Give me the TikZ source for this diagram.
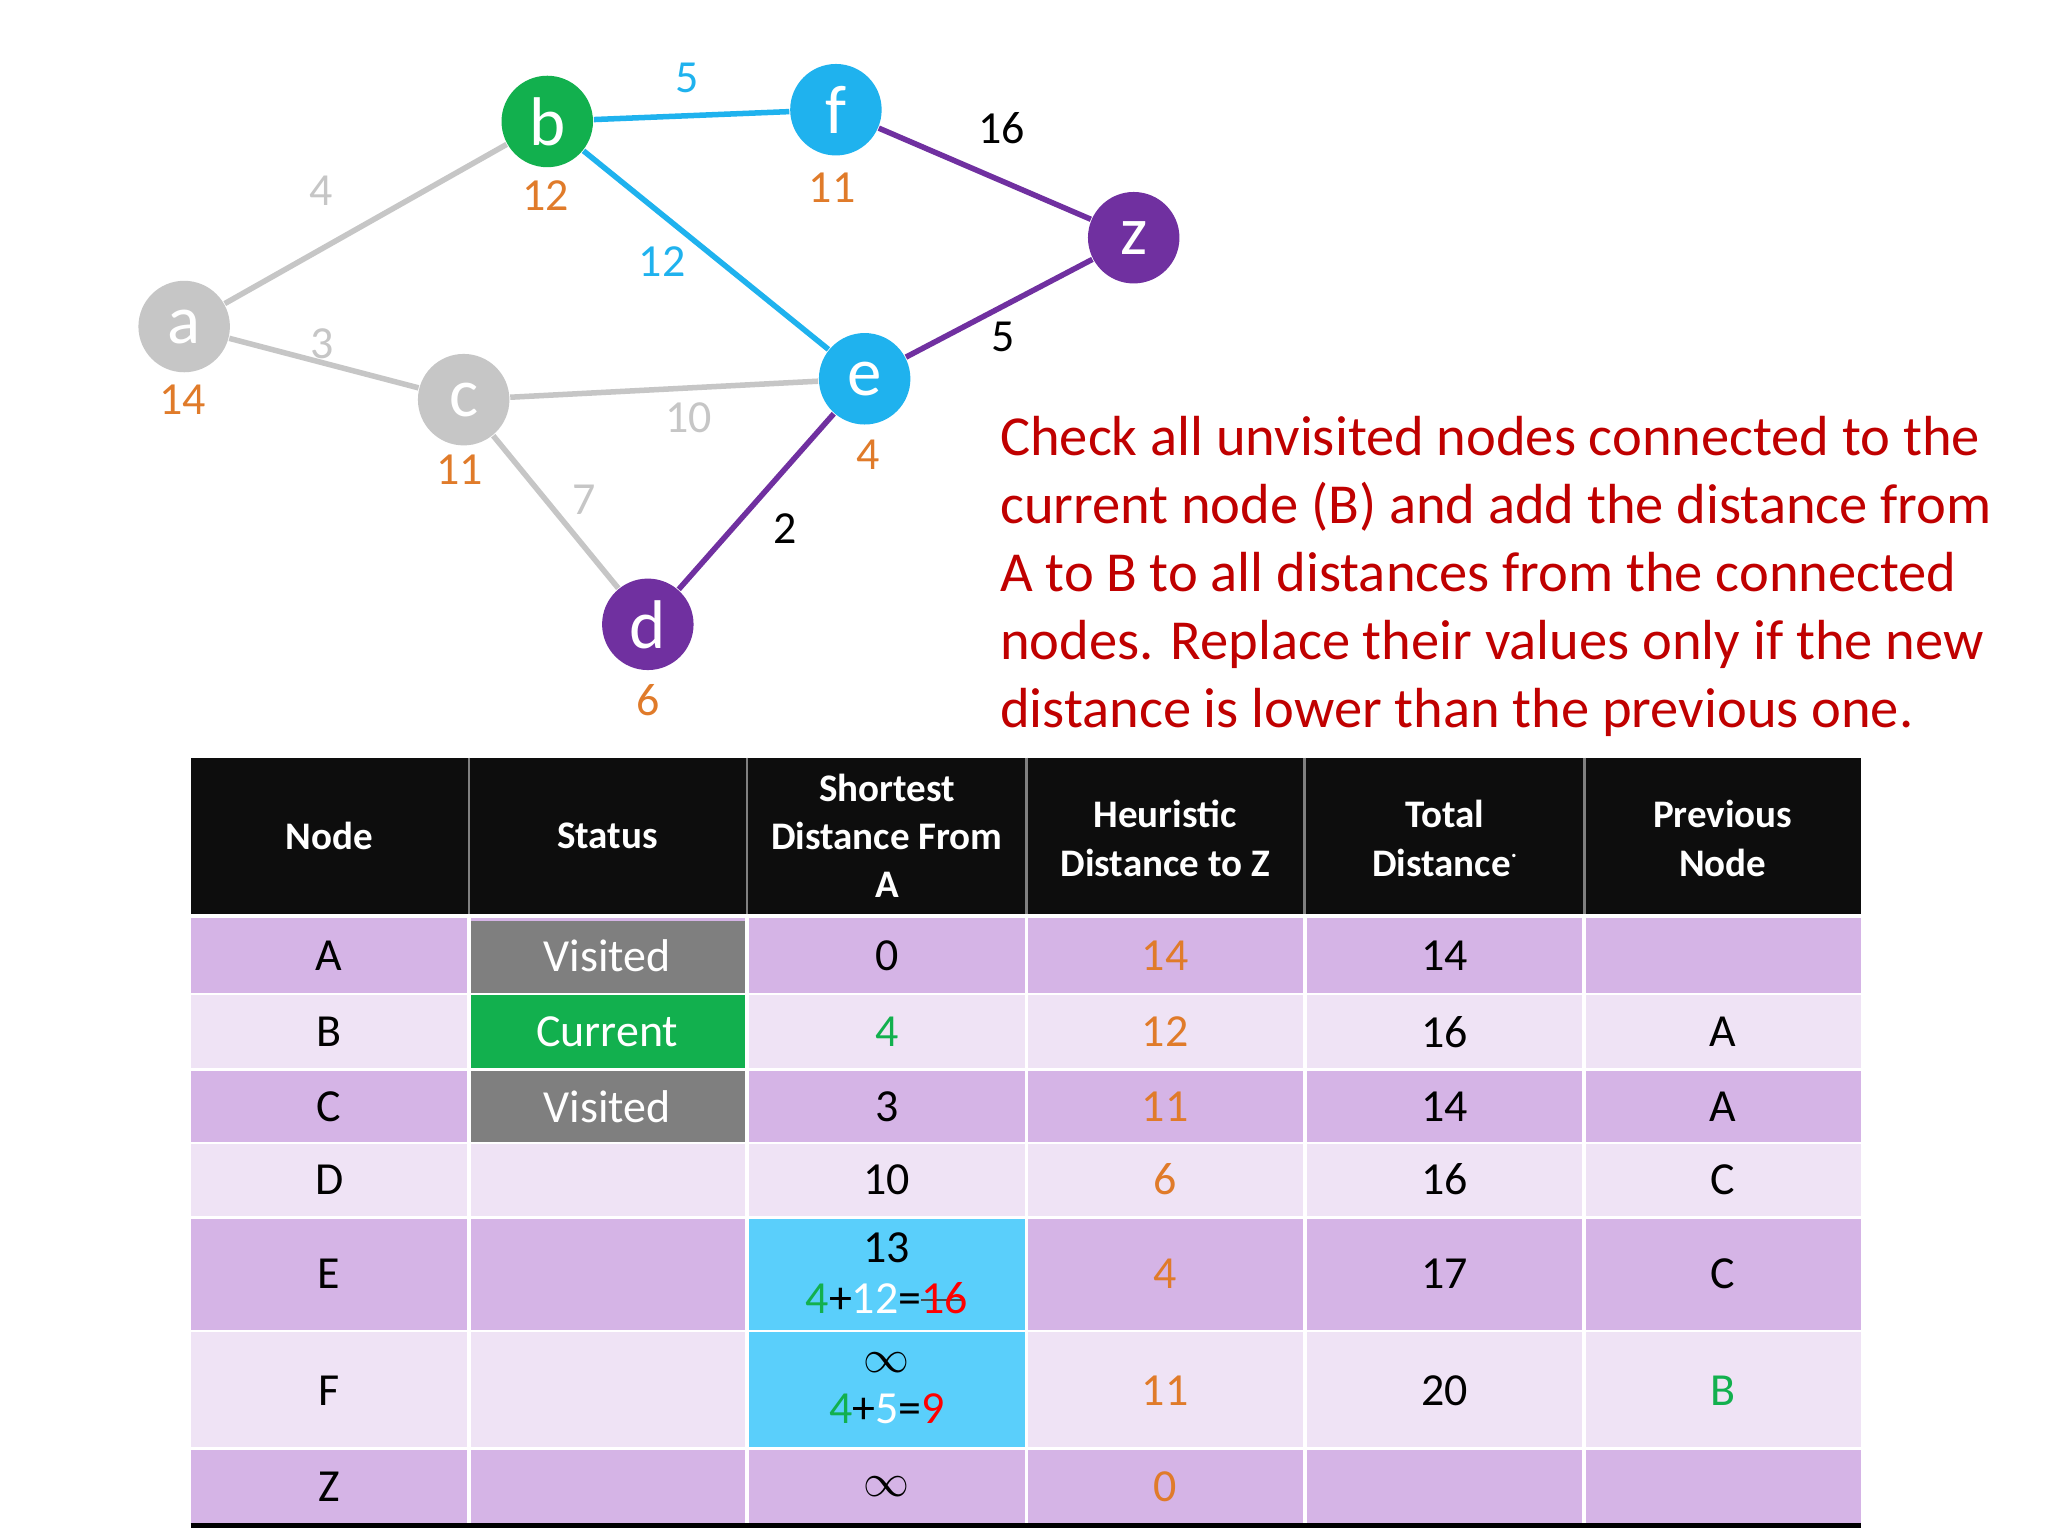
\documentclass[tikz,border=0pt]{standalone}
\usepackage{fontspec}
\setmainfont{Carlito}
\begin{document}
\begin{tikzpicture}[x=0.01cm,y=-0.01cm,
  vtx/.style={circle,minimum size=0.7cm,inner sep=0pt,text=white,font=\fontsize{15}{15}\selectfont},
  edge/.style={line width=1.2pt},
  elab/.style={font=\fontsize{10}{10}\selectfont},
  olab/.style={font=\fontsize{10}{10}\selectfont,text=ora},
  cell/.style={font=\fontsize{10}{11}\selectfont,align=center},
  hd/.style={font=\bfseries\fontsize{8.5}{10.5}\selectfont,text=white,align=center}]
\definecolor{gr}{HTML}{C6C6C6}
\definecolor{grn}{HTML}{12B04E}
\definecolor{blu}{HTML}{1FB2EE}
\definecolor{pur}{HTML}{7030A0}
\definecolor{ora}{HTML}{E07B2A}
\definecolor{rd}{HTML}{C00000}
\definecolor{rowA}{HTML}{D5B4E6}
\definecolor{rowB}{HTML}{EFE3F5}
\definecolor{cyan2}{HTML}{5ACFFB}
\definecolor{vis}{HTML}{7F7F7F}
\useasboundingbox (0,0) rectangle (1568,1176);
\fill[white] (0,0) rectangle (1568,1176);
% graph
\node[vtx,fill=gr] (a) at (141,250) {a};
\node[vtx,fill=grn] (b) at (419,93) {b};
\node[vtx,fill=blu] (f) at (640,84) {f};
\node[vtx,fill=pur] (z) at (868,182) {z};
\node[vtx,fill=blu] (e) at (662,290) {e};
\node[vtx,fill=gr] (c) at (355,306) {c};
\node[vtx,fill=pur] (d) at (496,478) {d};
\draw[edge,gr] (a) -- (b);
\draw[edge,gr] (a) -- (c);
\draw[edge,gr] (c) -- (e);
\draw[edge,gr] (c) -- (d);
\draw[edge,blu] (b) -- (f);
\draw[edge,blu] (b) -- (e);
\draw[edge,pur] (f) -- (z);
\draw[edge,pur] (e) -- (z);
\draw[edge,pur] (e) -- (d);
\node[elab,text=gr] (l1) at (246,146) {4};
\node[elab,text=gr] (l2) at (247,263) {3};
\node[elab,text=gr] (l3) at (527,320) {10};
\node[elab,text=gr] (l4) at (447,383) {7};
\node[elab,text=blu] (l5) at (526,60) {5};
\node[elab,text=blu] (l6) at (507,200) {12};
\node[elab] (l7) at (767,98) {16};
\node[elab] (l8) at (768,258) {5};
\node[elab] (l9) at (601,405) {2};
\node[olab] (o1) at (140,306) {14};
\node[olab] (o2) at (418,150) {12};
\node[olab] (o3) at (637,144) {11};
\node[olab] (o4) at (352,360) {11};
\node[olab] (o5) at (665,348) {4};
\node[olab] (o6) at (496,536) {6};
% red text
\node[anchor=north west,text=rd,align=left,inner sep=0pt,font=\fontsize{12.3}{14.8}\selectfont] (txt) at (765,318)
 {Check all unvisited nodes connected to the\\current node (B) and add the distance from\\A to B to all distances from the connected\\nodes. Replace their values only if the new\\distance is lower than the previous one.};
% table
\fill[black!95] (146,580) rectangle (1425,700);
\fill[rowA] (146,703) rectangle (1425,760);
\fill[rowB] (146,762) rectangle (1425,818);
\fill[rowA] (146,820) rectangle (1425,874);
\fill[rowB] (146,876) rectangle (1425,931);
\fill[rowA] (146,933) rectangle (1425,1018);
\fill[rowB] (146,1020) rectangle (1425,1108);
\fill[rowA] (146,1110) rectangle (1425,1166);
\fill[vis] (360,705) rectangle (571,760);
\fill[grn] (360,762) rectangle (571,818);
\fill[vis] (360,820) rectangle (571,874);
\fill[cyan2] (573,933) rectangle (785,1018);
\fill[cyan2] (573,1020) rectangle (785,1108);
\draw[black,line width=1pt] (146,1168) -- (1425,1168);
\foreach \x in {359,572,786,999,1213}{
  \draw[gray,line width=0.6pt] (\x,580) -- (\x,700);
  \draw[white,line width=0.8pt] (\x,703) -- (\x,1166);
}
\node[hd] (h1) at (252,640) {Node};
\node[hd] (h2) at (465,640) {Status};
\node[hd] (h3) at (679,640) {Shortest\\Distance From\\A};
\node[hd] (h4) at (892,642) {Heuristic\\Distance to Z};
\node[hd] (h5) at (1106,642) {Total\\Distance\raisebox{1ex}{\tiny.}};
\node[hd] (h6) at (1319,642) {Previous\\Node};
% rows
\foreach \y/\n/\s/\h/\t/\p [count=\i] in {732/A/0/14/14/,790/B/\textcolor{grn}{4}/12/16/A,847/C/3/11/14/A,903/D/10/6/16/C,975/E//4/17/C,1065/F//11/20/\textcolor{grn}{B},1138/Z/$\infty$/0//}{
  \node[cell] (n\i) at (252,\y) {\n};
  \node[cell] (s\i) at (679,\y) {\s};
  \node[cell,text=ora] (hh\i) at (892,\y) {\h};
  \node[cell] (t\i) at (1106,\y) {\t};
  \node[cell] (p\i) at (1319,\y) {\p};
}
\node[cell,text=white] (st1) at (465,732) {Visited};
\node[cell,text=white] (st2) at (465,790) {Current};
\node[cell,text=white] (st3) at (465,847) {Visited};
\node[cell] (se) at (679,975) {13\\\textcolor{grn}{4}+\textcolor{white}{12}=\textcolor{red}{\rlap{\textcolor{black!70}{\rule[0.55ex]{0.95em}{0.5pt}}}16}};
\node[cell] (sf) at (679,1063) {$\infty$\\\textcolor{grn}{4}+\textcolor{white}{5}=\textcolor{red}{9}};
\end{tikzpicture}
\end{document}
